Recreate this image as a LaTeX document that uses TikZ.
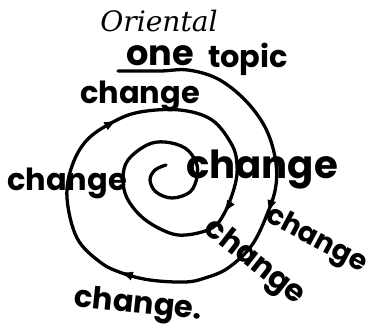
\documentclass[tikz,border=0pt]{standalone}
\usepackage{fontspec}
\setmainfont{DejaVu Serif}
\newfontfamily\handfont{Poppins}
\usetikzlibrary{arrows.meta}

\begin{document}
\begin{tikzpicture}[x=0.3mm,y=-0.3mm,
  spiral/.style={line width=2.8pt,line cap=round,line join=round},
  tip/.style={line width=2.8pt,-{Latex[length=11pt,width=8pt]}},
  hand/.style={font=\handfont\bfseries\fontsize{26}{28}\selectfont,inner sep=0pt}]
  \useasboundingbox (0,0) rectangle (371,331);
  \node (title) at (159,21) {\fontsize{24}{26}\selectfont\itshape Oriental};
  \node[hand,font=\handfont\bfseries\fontsize{30}{32}\selectfont] (one) at (160,56) {one};
  \node[hand] (topic) at (248,59) {topic};
  % the spiral, from the underline of "one" inwards
  \draw[spiral] plot[smooth,tension=0.6] coordinates {
    (118,71) (160,71) (188,70) (218,79) (245,100) (265,127) (275,157)
    (276,185) (268,212) (252,245) (228,268) (205,278) (185,282)
    (150,280) (122,273) (100,262) (77,238) (67,198) (72,166) (87,140)
    (113,122) (140,112) (180,110) (212,120) (232,145) (237,165)
    (235,185) (225,212) (212,228) (186,235) (167,232) (143,218)
    (127,198) (123,178) (128,160) (147,145) (165,142) (185,148)
    (196,162) (197,177) (190,192) (172,198) (156,192) (150,180)
    (155,170) (166,165)};
  \draw[tip] (106,126) -- (117,120);
  \draw[tip] (272,200) -- (268,213);
  \draw[tip] (132,276) -- (120,272);
  \draw[tip] (231,202) -- (224,213);
  \node[hand] (c1) at (140,96) {change};
  \node[hand] (c2) at (67,183) {change};
  \node[hand,font=\handfont\bfseries\fontsize{33}{35}\selectfont] (c3) at (262,170) {change};
  \node[hand,rotate=-28,font=\handfont\bfseries\fontsize{24}{26}\selectfont] (c4) at (316,241) {change};
  \node[hand,rotate=-38] (c5) at (254,263) {change};
  \node[hand,rotate=-6] (c6) at (138,306) {change.};
\end{tikzpicture}
\end{document}
